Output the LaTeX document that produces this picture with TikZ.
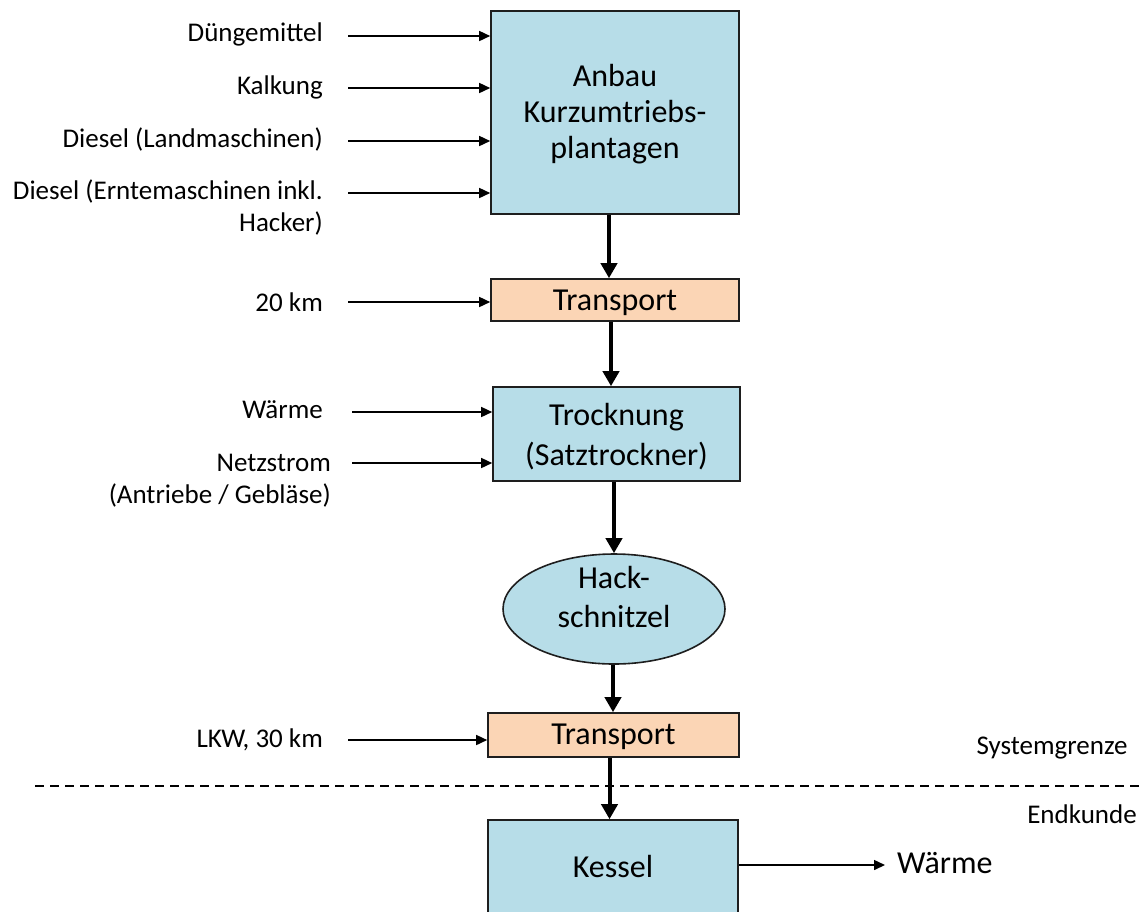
\documentclass[tikz,border=0pt]{standalone}
\usepackage{fontspec}
\setmainfont{Carlito}
\usetikzlibrary{arrows.meta,shapes.geometric}
\definecolor{boxblue}{RGB}{183,221,232}
\definecolor{boxpeach}{RGB}{251,213,181}
\definecolor{edge}{RGB}{30,30,30}
\tikzset{
  procbox/.style={draw=edge,line width=1.6pt,fill=boxblue,inner sep=0pt},
  transbox/.style={draw=edge,line width=1.6pt,fill=boxpeach,inner sep=0pt},
  boxtxt/.style={inner sep=0pt,align=center,font=\fontsize{32}{38}\selectfont},
  lbl/.style={anchor=east,align=right,inner sep=0pt,font=\fontsize{27}{32}\selectfont},
  inarrow/.style={line width=1.5pt,-{Triangle[length=11pt,width=10pt]}},
  flow/.style={line width=4pt,-{Triangle[length=15pt,width=16pt]}}
}
\begin{document}
\begin{tikzpicture}[x=1pt,y=-1pt]
\useasboundingbox (0,0) rectangle (1142,911);
% boxes
\node[procbox,minimum width=248,minimum height=203] (anbau) at (615,112.5) {};
\node[transbox,minimum width=248,minimum height=42] (t1) at (615,300) {};
\node[procbox,minimum width=247,minimum height=94] (trock) at (616.5,434) {};
\node[procbox,ellipse,minimum width=222,minimum height=110] (hack) at (614,609) {};
\node[transbox,minimum width=251,minimum height=44] (t2) at (613.5,735) {};
\node[procbox,minimum width=250,minimum height=94] (kessel) at (613,867) {};
% box texts
\node[boxtxt,font=\fontsize{32}{36}\selectfont] (anbautxt) at ([yshift=-2pt]anbau.center) {Anbau\\Kurzumtriebs-\\plantagen};
\node[boxtxt] (t1txt) at ([yshift=-3pt]t1.center) {Transport};
\node[boxtxt,font=\fontsize{32}{40}\selectfont] (trocktxt) at ([yshift=-3pt]trock.center) {Trocknung\\(Satztrockner)};
\node[boxtxt,font=\fontsize{32}{39}\selectfont] (hacktxt) at ([yshift=12pt]hack.center) {Hack-\\schnitzel};
\node[boxtxt] (t2txt) at ([yshift=-2pt]t2.center) {Transport};
\node[boxtxt] (kesseltxt) at ([yshift=1pt]kessel.center) {Kessel};
% labels
\node[lbl] (l1) at (323,34) {Düngemittel};
\node[lbl] (l2) at (323,87) {Kalkung};
\node[lbl] (l3) at (323,139) {Diesel (Landmaschinen)};
\node[lbl,anchor=north east] (l4) at (323,180) {Diesel (Erntemaschinen inkl.\\Hacker)};
\node[lbl] (l5) at (323,302) {20 km};
\node[lbl] (l6) at (323,410) {Wärme};
\node[lbl,anchor=north east] (l7) at (331,454) {Netzstrom\\(Antriebe / Gebläse)};
\node[lbl] (l8) at (323,740) {LKW, 30 km};
\node[lbl,anchor=center] (sg) at (1052,748) {Systemgrenze};
\node[lbl,anchor=center] (ek) at (1082,814) {Endkunde};
\node[anchor=west,inner sep=0pt,font=\fontsize{32}{40}\selectfont] (out) at (897,863) {Wärme};
% input arrow starts
\coordinate (s1) at (348,36);
\coordinate (s2) at (348,88);
\coordinate (s3) at (348,141);
\coordinate (s4) at (348,193);
\coordinate (s5) at (348,302);
\coordinate (s6) at (352,412);
\coordinate (s7) at (352,463);
\coordinate (s8) at (348,740);
\draw[inarrow] (s1) -- (s1 -| anbau.west);
\draw[inarrow] (s2) -- (s2 -| anbau.west);
\draw[inarrow] (s3) -- (s3 -| anbau.west);
\draw[inarrow] (s4) -- (s4 -| anbau.west);
\draw[inarrow] (s5) -- (s5 -| t1.west);
\draw[inarrow] (s6) -- (s6 -| trock.west);
\draw[inarrow] (s7) -- (s7 -| trock.west);
\draw[inarrow] (s8) -- (s8 -| t2.west);
% system boundary
\coordinate (dl) at (35,786);
\coordinate (dr) at (1142,786);
\draw[line width=1.4pt,dash pattern=on 9pt off 6pt] (dl) -- (dr);
% flow arrows
\draw[flow] ([xshift=-6pt]anbau.south) -- ([xshift=-6pt]anbau.south |- t1.north);
\draw[flow] ([xshift=-4pt]t1.south) -- ([xshift=-4pt]t1.south |- trock.north);
\draw[flow] ([xshift=-2.5pt]trock.south) -- (hack.north);
\draw[flow] ([xshift=-1pt]hack.south) -- ([xshift=-1pt]hack.south |- t2.north);
\draw[flow] ([xshift=-4pt]t2.south) -- ([xshift=-4pt]t2.south |- kessel.north);
% output
\coordinate (o) at (885,865);
\draw[inarrow] (kessel.east |- o) -- (o);
\end{tikzpicture}
\end{document}
